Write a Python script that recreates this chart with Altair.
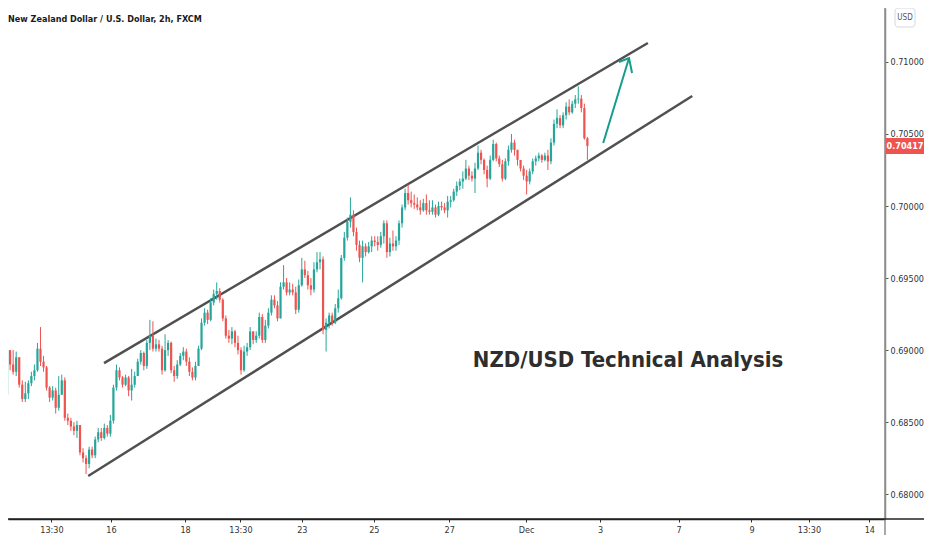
import altair as alt
import pandas as pd

# ---------------- data ----------------
FIRST_OPEN = 0.6869
CLOSE = [
    0.6900, 0.6890, 0.6885, 0.6895, 0.6876, 0.6866, 0.6870, 0.6877, 0.6882, 0.6886,
    0.6901, 0.6892, 0.6888, 0.6874, 0.6867, 0.6872, 0.6860, 0.6869, 0.6879, 0.6853,
    0.6851, 0.6847, 0.6844, 0.6848, 0.6829, 0.6825, 0.6821, 0.6831, 0.6827, 0.6838,
    0.6843, 0.6839, 0.6846, 0.6842, 0.6851, 0.6874, 0.6886, 0.6881, 0.6876, 0.6881,
    0.6872, 0.6876, 0.6882, 0.6892, 0.6898, 0.6889, 0.6905, 0.6910, 0.6901, 0.6904,
    0.6901, 0.6886, 0.6900, 0.6905, 0.6886, 0.6882, 0.6890, 0.6896, 0.6899, 0.6892,
    0.6885, 0.6881, 0.6889, 0.6901, 0.6919, 0.6926, 0.6921, 0.6933, 0.6939, 0.6941,
    0.6935, 0.6922, 0.6910, 0.6908, 0.6913, 0.6905, 0.6900, 0.6886, 0.6899, 0.6902,
    0.6913, 0.6907, 0.6910, 0.6923, 0.6907, 0.6917, 0.6926, 0.6935, 0.6931, 0.6922,
    0.6944, 0.6947, 0.6940, 0.6942, 0.6940, 0.6928, 0.6945, 0.6956, 0.6952, 0.6945,
    0.6942, 0.6956, 0.6961, 0.6963, 0.6914, 0.6919, 0.6924, 0.6919, 0.6929, 0.6936,
    0.6964, 0.6978, 0.6989, 0.6994, 0.6982, 0.6973, 0.6964, 0.6972, 0.6968, 0.6972,
    0.6976, 0.6975, 0.6973, 0.6979, 0.6988, 0.6968, 0.6974, 0.6972, 0.6976, 0.6988,
    0.6999, 0.7009, 0.7004, 0.7002, 0.7001, 0.6999, 0.6997, 0.7002, 0.6997, 0.6996,
    0.6999, 0.6994, 0.7000, 0.6999, 0.6997, 0.7003, 0.7004, 0.7010, 0.7014, 0.7017,
    0.7019, 0.7026, 0.7021, 0.7019, 0.7026, 0.7037, 0.7032, 0.7025, 0.7019, 0.7032,
    0.7043, 0.7033, 0.7029, 0.7019, 0.7031, 0.7039, 0.7044, 0.7039, 0.7032, 0.7026,
    0.7021, 0.7017, 0.7024, 0.7031, 0.7033, 0.7035, 0.7032, 0.7035, 0.7031, 0.7044,
    0.7057, 0.7061, 0.7056, 0.7063, 0.7069, 0.7065, 0.7071, 0.7074, 0.70745, 0.7068,
    0.7047, 0.70417,
]
HIGH = [
    0.6906, 0.6899, 0.6900, 0.6899, 0.6895, 0.6879, 0.6878, 0.6879, 0.6885, 0.6890,
    0.6905, 0.6916, 0.6896, 0.6889, 0.6875, 0.6875, 0.6874, 0.6882, 0.6883, 0.6881,
    0.6856, 0.6853, 0.6850, 0.6851, 0.6848, 0.6832, 0.6827, 0.6833, 0.6833, 0.6840,
    0.6846, 0.6846, 0.6849, 0.6848, 0.6855, 0.6876, 0.6890, 0.6888, 0.6882, 0.6883,
    0.6882, 0.6887, 0.6885, 0.6894, 0.6900, 0.6899, 0.6907, 0.6921, 0.6920, 0.6908,
    0.6907, 0.6903, 0.6911, 0.6907, 0.6906, 0.6889, 0.6893, 0.6898, 0.6902, 0.6901,
    0.6895, 0.6888, 0.6892, 0.6903, 0.6922, 0.6929, 0.6928, 0.6936, 0.6942, 0.6947,
    0.6943, 0.6936, 0.6924, 0.6914, 0.6916, 0.6914, 0.6910, 0.6902, 0.6903, 0.6905,
    0.6916, 0.6913, 0.6913, 0.6926, 0.6925, 0.6921, 0.6929, 0.6938, 0.6938, 0.6934,
    0.6947, 0.6959, 0.6950, 0.6947, 0.6946, 0.6944, 0.6949, 0.6964, 0.6962, 0.6955,
    0.6950, 0.6961, 0.6968, 0.6968, 0.6965, 0.6922, 0.6926, 0.6926, 0.6932, 0.6942,
    0.6966, 0.6982, 0.6992, 0.7006, 0.6997, 0.6985, 0.6976, 0.6976, 0.6974, 0.6975,
    0.6979, 0.6979, 0.6979, 0.6982, 0.6990, 0.6990, 0.6978, 0.6983, 0.6979, 0.6990,
    0.7001, 0.7012, 0.7015, 0.7010, 0.7008, 0.7006, 0.7004, 0.7005, 0.7008, 0.7004,
    0.7004, 0.7001, 0.7003, 0.7003, 0.7002, 0.7007, 0.7007, 0.7012, 0.7017, 0.7019,
    0.7024, 0.7032, 0.7028, 0.7024, 0.7030, 0.7042, 0.7039, 0.7033, 0.7028, 0.7035,
    0.7046, 0.7044, 0.7035, 0.7032, 0.7033, 0.7042, 0.7050, 0.7046, 0.7039, 0.7032,
    0.7028, 0.7025, 0.7026, 0.7033, 0.7035, 0.7037, 0.7036, 0.7037, 0.7039, 0.7047,
    0.7060, 0.7067, 0.7063, 0.7065, 0.7072, 0.7074, 0.7073, 0.7077, 0.7083, 0.7077,
    0.7071, 0.7048,
]
LOW = [
    0.6864, 0.6886, 0.6883, 0.6882, 0.6874, 0.6864, 0.6864, 0.6866, 0.6875, 0.6879,
    0.6885, 0.6889, 0.6885, 0.6872, 0.6864, 0.6865, 0.6856, 0.6858, 0.6869, 0.6851,
    0.6848, 0.6844, 0.6841, 0.6839, 0.6827, 0.6822, 0.6814, 0.6818, 0.6825, 0.6825,
    0.6836, 0.6837, 0.6838, 0.6840, 0.6840, 0.6849, 0.6872, 0.6879, 0.6874, 0.6875,
    0.6868, 0.6865, 0.6874, 0.6882, 0.6890, 0.6886, 0.6887, 0.6900, 0.6899, 0.6899,
    0.6899, 0.6883, 0.6885, 0.6896, 0.6884, 0.6878, 0.6880, 0.6889, 0.6893, 0.6889,
    0.6882, 0.6879, 0.6879, 0.6889, 0.6900, 0.6917, 0.6918, 0.6920, 0.6931, 0.6935,
    0.6933, 0.6920, 0.6908, 0.6905, 0.6904, 0.6902, 0.6897, 0.6883, 0.6885, 0.6896,
    0.6900, 0.6904, 0.6905, 0.6908, 0.6905, 0.6905, 0.6915, 0.6924, 0.6929, 0.6920,
    0.6922, 0.6942, 0.6938, 0.6938, 0.6938, 0.6925, 0.6926, 0.6944, 0.6950, 0.6942,
    0.6938, 0.6940, 0.6954, 0.6956, 0.6911, 0.6899, 0.6915, 0.6917, 0.6918, 0.6926,
    0.6935, 0.6962, 0.6976, 0.6985, 0.6979, 0.6969, 0.6961, 0.6947, 0.6965, 0.6967,
    0.6968, 0.6972, 0.6969, 0.6971, 0.6974, 0.6964, 0.6965, 0.6969, 0.6969, 0.6973,
    0.6985, 0.6997, 0.7001, 0.6999, 0.6998, 0.6997, 0.6994, 0.6996, 0.6994, 0.6994,
    0.6994, 0.6992, 0.6993, 0.6997, 0.6995, 0.6992, 0.6999, 0.7003, 0.7007, 0.7011,
    0.7012, 0.7018, 0.7018, 0.7017, 0.7009, 0.7025, 0.7029, 0.7022, 0.7013, 0.7018,
    0.7031, 0.7031, 0.7027, 0.7017, 0.7018, 0.7028, 0.7037, 0.7035, 0.7028, 0.7024,
    0.7018, 0.7008, 0.7015, 0.7022, 0.7028, 0.7031, 0.7030, 0.7031, 0.7025, 0.7029,
    0.7042, 0.7054, 0.7054, 0.7054, 0.7060, 0.7063, 0.7064, 0.7068, 0.7071, 0.7065,
    0.7046, 0.7032,
]

# time axis: candle-index positions of the date labels
TICK_POS = [14.6, 34.2, 58.6, 76.8, 97.0, 120.7, 145.5, 170.8, 195.2, 221.0, 245.0, 263.9, 283.8]
TICK_LABELS = ["13:30", "16", "18", "13:30", "23", "25", "27", "Dec", "3", "7", "9", "13:30", "14"]
Y_TICKS = [0.680, 0.685, 0.690, 0.695, 0.700, 0.705, 0.710]

# drawn channel lines and arrow (candle index, price)
UPPER_K = [31.9, 210.9]
UPPER_P = [0.68910, 0.71131]
LOWER_K = [26.7, 225.5]
LOWER_P = [0.68126, 0.70763]
ARROW_K = [196.2, 204.7]
ARROW_P = [0.70437, 0.71027]
HEAD_K = [201.4, 204.7, 205.7]
HEAD_P = [0.70999, 0.71027, 0.70923]

NOTE_K = [153.3]
NOTE_P = [0.68883]
NOTE_TEXT = ["NZD/USD Technical Analysis"]
TITLE_TEXT = "New Zealand Dollar / U.S. Dollar, 2h, FXCM"

X_DOMAIN = [1.95, 287.3]
Y_DOMAIN = [0.67828, 0.71374]

GREEN = "#26a69a"
RED = "#ef5350"
FONT = "DejaVu Sans Condensed, DejaVu Sans, sans-serif"
W, H = 877, 511
PAD_R, PAD_B = 39, 16

# ---------------- tables ----------------
n = len(CLOSE)
OPEN = [FIRST_OPEN] + CLOSE[:-1]
candles = pd.DataFrame({"k": list(range(n)), "open": OPEN, "high": HIGH, "low": LOW, "close": CLOSE})

channel = pd.DataFrame({
    "k": UPPER_K + LOWER_K,
    "p": UPPER_P + LOWER_P,
    "line": ["upper"] * len(UPPER_K) + ["lower"] * len(LOWER_K),
})
arrow = pd.DataFrame({
    "k": ARROW_K + HEAD_K,
    "p": ARROW_P + HEAD_P,
    "part": ["shaft"] * len(ARROW_K) + ["head"] * len(HEAD_K),
    "order": list(range(len(ARROW_K))) + list(range(len(HEAD_K))),
})
note = pd.DataFrame({"k": NOTE_K, "p": NOTE_P, "t": NOTE_TEXT})
last = pd.DataFrame({"p": [CLOSE[-1]]})
one = pd.DataFrame({"t": [TITLE_TEXT]})

label_expr = "[" + ",".join("'%s'" % s for s in TICK_LABELS) + "][indexof([" + \
    ",".join(str(v) for v in TICK_POS) + "], datum.value)]"

x_axis = alt.Axis(values=TICK_POS, labelExpr=label_expr, title=None, grid=False,
                  domainColor="#222222", domainWidth=1.5, tickColor="#333333", tickSize=3,
                  labelColor="#333333", labelFontSize=9, labelFont=FONT, labelPadding=3,
                  labelFlush=False)
y_axis = alt.Axis(orient="right", values=Y_TICKS, format=".5f", title=None, grid=False,
                  domainColor="#8c8c8c", domainWidth=1.5, tickColor="#555555", tickSize=3,
                  labelColor="#333333", labelFontSize=9, labelFont=FONT, labelPadding=2)

def xq(field):
    return alt.X(field + ":Q", scale=alt.Scale(domain=X_DOMAIN, nice=False, zero=False), axis=x_axis)

def yq(field):
    return alt.Y(field + ":Q", scale=alt.Scale(domain=Y_DOMAIN, nice=False, zero=False), axis=y_axis)

color = alt.condition("datum.close >= datum.open", alt.value(GREEN), alt.value(RED))

base = alt.Chart(candles)
wicks = base.mark_rule(strokeWidth=1, clip=True).encode(
    x=xq("k"), y=yq("low"), y2="high", color=color)
bodies = base.mark_bar(size=2.2, clip=True).encode(
    x=xq("k"), y=yq("open"), y2="close", color=color)

lines = alt.Chart(channel).mark_line(color="#505050", strokeWidth=2.5).encode(
    x=xq("k"), y=yq("p"), detail="line:N")

arrows = alt.Chart(arrow).mark_line(color="#149c8c", strokeWidth=2).encode(
    x=xq("k"), y=yq("p"), detail="part:N", order="order:Q")

note_text = alt.Chart(note).mark_text(
    align="left", baseline="alphabetic", font=FONT, fontSize=22, fontWeight="bold",
    color="#2e2e2e").encode(x=xq("k"), y=yq("p"), text="t:N")

title_text = alt.Chart(one).mark_text(
    align="left", baseline="middle", font=FONT, fontSize=9, fontWeight="bold",
    color="#1a1a1a", clip=False).encode(x=alt.value(0), y=alt.value(11), text="t:N")

# extended frame lines (price scale border and time scale border)
vline = alt.Chart(one).mark_rule(color="#8c8c8c", strokeWidth=1.5, clip=False).encode(
    x=alt.value(W), y=alt.value(0), y2=alt.value(H + PAD_B))
hline = alt.Chart(one).mark_rule(color="#222222", strokeWidth=1.5, clip=False).encode(
    x=alt.value(0), x2=alt.value(W + PAD_R), y=alt.value(H))

# last-price tag on the price scale
tag = alt.Chart(last).mark_point(
    shape="M-1,-0.42H1V0.42H-1Z", size=1444, filled=True, opacity=1, color=RED,
    clip=False).encode(x=alt.value(W + 20), y=yq("p"))
tag_text = alt.Chart(last).mark_text(
    color="white", fontSize=9, fontWeight="bold", font=FONT, clip=False).encode(
    x=alt.value(W + 20), y=yq("p"), text=alt.Text("p:Q", format=".5f"))

usd_box = alt.Chart(one).mark_rect(
    fill="white", stroke="#d6d8de", strokeWidth=1, cornerRadius=3, clip=False).encode(
    x=alt.value(W + 10), x2=alt.value(W + 30), y=alt.value(0), y2=alt.value(19))
usd_text = alt.Chart(one).mark_text(
    fontSize=8, font=FONT, color="#555555", clip=False).encode(
    x=alt.value(W + 20), y=alt.value(10), text=alt.value("USD"))

chart = alt.layer(
    lines, wicks, bodies, arrows, note_text, title_text, vline, hline,
    tag, tag_text, usd_box, usd_text
).properties(
    width=W, height=H, background="white",
    autosize=alt.AutoSizeParams(type="none"),
    padding={"left": 0, "top": 0, "right": PAD_R, "bottom": PAD_B},
).configure_view(stroke=None)

chart.save("out.html", embed_options={"renderer": "svg", "actions": False})
